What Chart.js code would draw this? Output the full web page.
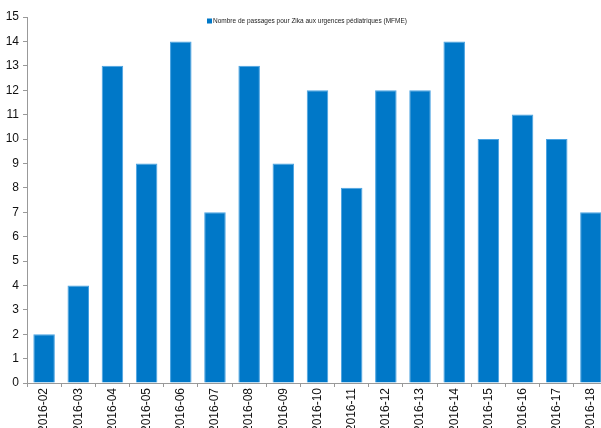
<!DOCTYPE html>
<html>
<head>
<meta charset="utf-8">
<script src="https://cdn.jsdelivr.net/npm/chart.js@4"></script>
<style>
  html, body { margin: 0; padding: 0; background: #fff; overflow: hidden; }
  #wrap { position: absolute; left: 0; top: 0; width: 614px; height: 445px; }
</style>
</head>
<body>
<div id="wrap"><canvas id="c" width="614" height="445"></canvas></div>
<script>
// Weekly counts of Zika-related paediatric emergency visits
const weeks = ['2016-02','2016-03','2016-04','2016-05','2016-06','2016-07','2016-08','2016-09',
               '2016-10','2016-11','2016-12','2016-13','2016-14','2016-15','2016-16','2016-17','2016-18'];
const visits = [2, 4, 13, 9, 14, 7, 13, 9, 12, 8, 12, 12, 14, 10, 11, 10, 7];
const seriesLabel = 'Nombre de passages pour Zika aux urgences pédiatriques (MFME)';
const yTicks = [0,1,2,3,4,5,6,7,8,9,10,11,12,13,14,15];

// Small legend drawn inside the plot area, centred at the top
const topLegend = {
  id: 'topLegend',
  afterDraw(chart) {
    const ctx = chart.ctx;
    const ds = chart.data.datasets[0];
    ctx.save();
    ctx.font = '6.5px "Liberation Sans", Arial, sans-serif';
    const tw = ctx.measureText(ds.label).width;
    const box = 5;
    const total = box + 1 + tw;
    const x0 = 307 - total / 2;
    const y = 21;
    ctx.fillStyle = ds.backgroundColor;
    ctx.fillRect(x0, y - box / 2, box, box);
    ctx.fillStyle = '#222';
    ctx.textBaseline = 'middle';
    ctx.fillText(ds.label, x0 + box + 1, y + 0.5);
    ctx.restore();
  }
};

new Chart(document.getElementById('c'), {
  type: 'bar',
  data: {
    labels: weeks,
    datasets: [{
      label: seriesLabel,
      data: visits,
      backgroundColor: '#0078C8',
      borderColor: '#4aa3e2',
      borderWidth: 1,
      categoryPercentage: 1,
      barPercentage: 0.63
    }]
  },
  options: {
    responsive: false,
    animation: false,
    devicePixelRatio: 1,
    layout: { padding: { top: 17, right: 6, left: 0, bottom: 0 } },
    plugins: { legend: { display: false }, tooltip: { enabled: false } },
    scales: {
      x: {
        grid: { display: true, drawOnChartArea: false, drawTicks: true, tickLength: 4, color: '#999', offset: true },
        border: { display: true, color: '#999' },
        ticks: {
          minRotation: 90, maxRotation: 90, autoSkip: false,
          padding: 1,
          color: '#111',
          font: { family: '"Liberation Sans", Arial, sans-serif', size: 12 }
        },
        afterFit(scale) { scale.height = 62; }
      },
      y: {
        min: 0, max: 15,
        afterBuildTicks(scale) { scale.ticks = yTicks.map(v => ({ value: v })); },
        grid: { display: true, drawOnChartArea: false, drawTicks: true, tickLength: 4, color: '#999' },
        border: { display: true, color: '#999' },
        ticks: {
          padding: 4,
          color: '#111',
          font: { family: '"Liberation Sans", Arial, sans-serif', size: 12 }
        },
        afterFit(scale) { scale.width = 27; }
      }
    }
  },
  plugins: [topLegend]
});
</script>
</body>
</html>
